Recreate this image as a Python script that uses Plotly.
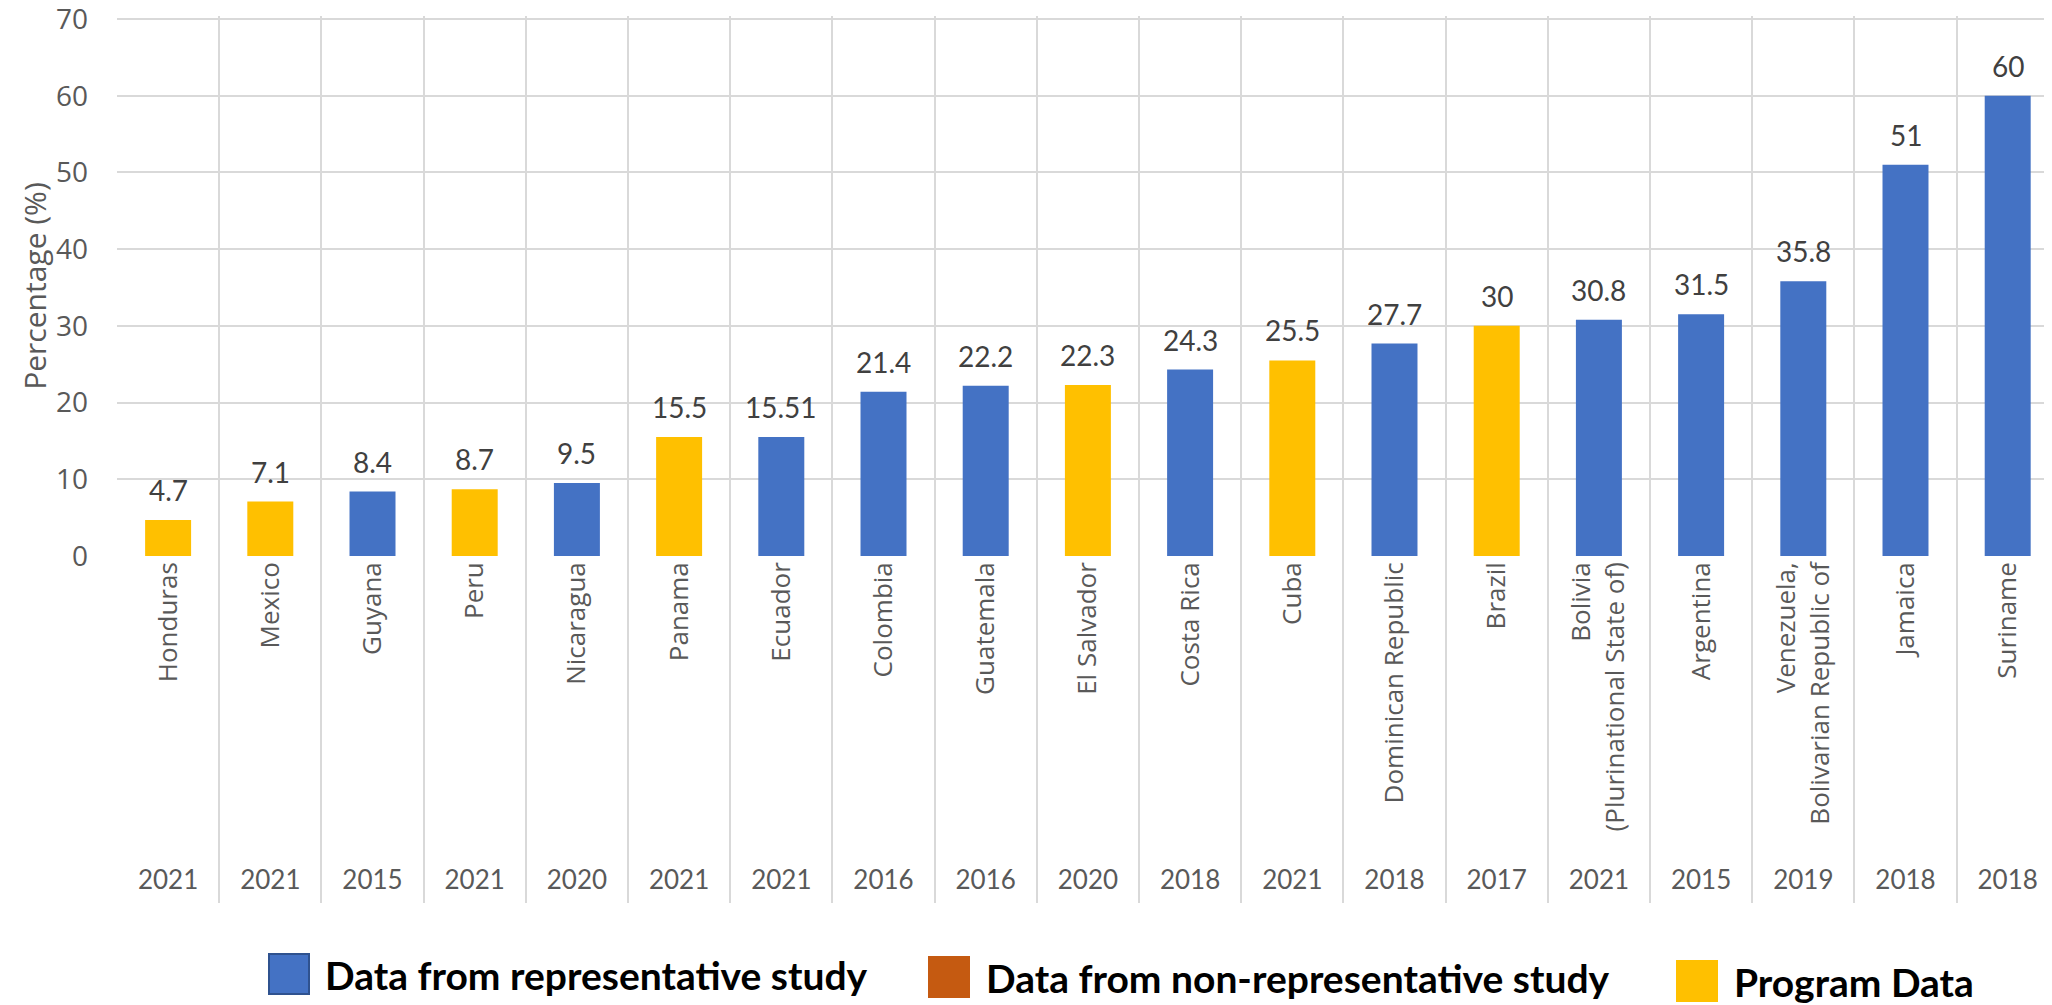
import plotly.graph_objects as go

# ---------------- data ----------------
countries = ["Honduras", "Mexico", "Guyana", "Peru", "Nicaragua", "Panama", "Ecuador",
             "Colombia", "Guatemala", "El Salvador", "Costa Rica", "Cuba",
             "Dominican Republic", "Brazil", "Bolivia<br>(Plurinational State of)",
             "Argentina", "Venezuela,<br>Bolivarian Republic of", "Jamaica", "Suriname"]
years = ["2021", "2021", "2015", "2021", "2020", "2021", "2021", "2016", "2016", "2020",
         "2018", "2021", "2018", "2017", "2021", "2015", "2019", "2018", "2018"]
values = [4.7, 7.1, 8.4, 8.7, 9.5, 15.5, 15.51, 21.4, 22.2, 22.3, 24.3, 25.5, 27.7, 30,
          30.8, 31.5, 35.8, 51, 60]
# R = representative study, N = non-representative study, P = program data
sources = ["P", "P", "R", "P", "R", "P", "R", "R", "R", "P", "R", "P", "R", "P", "R",
           "R", "R", "R", "R"]
legend_names = {"R": "Data from representative study",
                "N": "Data from non-representative study",
                "P": "Program Data"}
colors = {"R": "#4472C4", "N": "#C55A11", "P": "#FFC000"}
y_ticks = [0, 10, 20, 30, 40, 50, 60, 70]

# ---------------- geometry helpers ----------------
OFF = 8                      # page body margin of the html page
SW, SH = 2052, 1005          # screen size
W, H = SW - OFF, SH - OFF    # figure size
ZERO_S, TOP_S = 556, 19      # screen y of value 0 and value 70
PX_PER_UNIT = (ZERO_S - TOP_S) / 70.0
Y_MAX = 70.4                 # a little head-room so the 70 tick/grid is drawn
top_range_s = ZERO_S - Y_MAX * PX_PER_UNIT
ML, MR, MT, MB = 117 - OFF, 0, int(round(top_range_s - OFF)), SH - 903
PW, PH = W - ML - MR, H - MT - MB
Y_MAX = (ZERO_S - (MT + OFF)) / PX_PER_UNIT
dom_bottom = (903 - ZERO_S) / PH


def fx(sx):
    return (sx - OFF - ML) / PW


def fy(sy):
    return (903 - sy) / PH


n = len(countries)
xrange_ = [-0.5, -0.5 + PW / 102.2]
GRID = "#D9D9D9"
TXT = "#595959"

fig = go.Figure()
for key in ["R", "P"]:
    fig.add_trace(go.Bar(
        x=countries,
        y=[v if s == key else None for v, s in zip(values, sources)],
        marker=dict(color=colors[key], line=dict(width=0)),
        width=0.45, name=legend_names[key], showlegend=False,
    ))

# helper (invisible) traces so the extra category axes know the categories
for ax in ["x2", "x3"]:
    fig.add_trace(go.Scatter(x=countries, y=[None] * n, xaxis=ax, yaxis="y",
                             mode="markers", showlegend=False, hoverinfo="skip"))

# data labels
for c, v in zip(countries, values):
    fig.add_annotation(x=c, y=v, xref="x", yref="y", text=f"{v:g}", showarrow=False,
                       yanchor="bottom", yshift=11,
                       font=dict(family="Lato", size=28, color="#404040"))

# manual legend
leg_items = [("R", 269, 954, 323), ("N", 929, 957, 984), ("P", 1677, 961, 1732)]
for key, sx, sy, tx in leg_items:
    fig.add_shape(type="rect", xref="paper", yref="paper",
                  x0=fx(sx), x1=fx(sx + 40), y0=fy(sy + 40), y1=fy(sy),
                  fillcolor=colors[key],
                  line=dict(color="#2F528F" if key == "R" else colors[key], width=2))
    fig.add_annotation(x=fx(tx), y=fy(sy + 21), xref="paper", yref="paper",
                       text=f"<b>{legend_names[key]}</b>", showarrow=False,
                       xanchor="left", yanchor="middle",
                       font=dict(family="Lato", size=39, color="#000000"))

fig.update_layout(
    width=W, height=H,
    margin=dict(l=ML, r=MR, t=MT, b=MB, autoexpand=False),
    paper_bgcolor="white", plot_bgcolor="white",
    barmode="overlay", showlegend=False,
    font=dict(family="Open Sans", color=TXT),
    xaxis=dict(type="category", range=xrange_, tickson="boundaries",
               showgrid=True, gridcolor=GRID, gridwidth=2,
               ticks="outside", ticklen=14, tickcolor="rgba(0,0,0,0)",
               tickangle=-90, tickfont=dict(family="Open Sans", size=26, color=TXT),
               showline=False, automargin=False, anchor="y"),
    xaxis2=dict(type="category", range=xrange_, overlaying="x", anchor="free",
                position=0, side="bottom", tickson="boundaries",
                ticks="inside", ticklen=903 - ZERO_S, tickwidth=2,
                tickcolor=GRID, showticklabels=False, showgrid=False,
                showline=False, automargin=False),
    xaxis3=dict(type="category", range=xrange_, overlaying="x", anchor="free",
                position=0, side="bottom", ticks="", showgrid=False, showline=False,
                tickmode="array", tickvals=countries, ticktext=years,
                ticklabelposition="inside", ticklabelstandoff=6,
                tickfont=dict(family="Lato", size=26, color=TXT), automargin=False),
    yaxis=dict(domain=[dom_bottom, 1], range=[0, Y_MAX], tickmode="array",
               tickvals=y_ticks, showgrid=True, gridcolor=GRID, gridwidth=2,
               zeroline=False, showline=False, ticks="",
               ticklabelstandoff=28, ticklabeloverflow="allow",
               tickfont=dict(family="Open Sans", size=28, color=TXT),
               title=dict(text="Percentage (%)", standoff=0,
                          font=dict(family="Open Sans", size=30, color=TXT)),
               automargin=False),
)

fig.write_html("out.html")
